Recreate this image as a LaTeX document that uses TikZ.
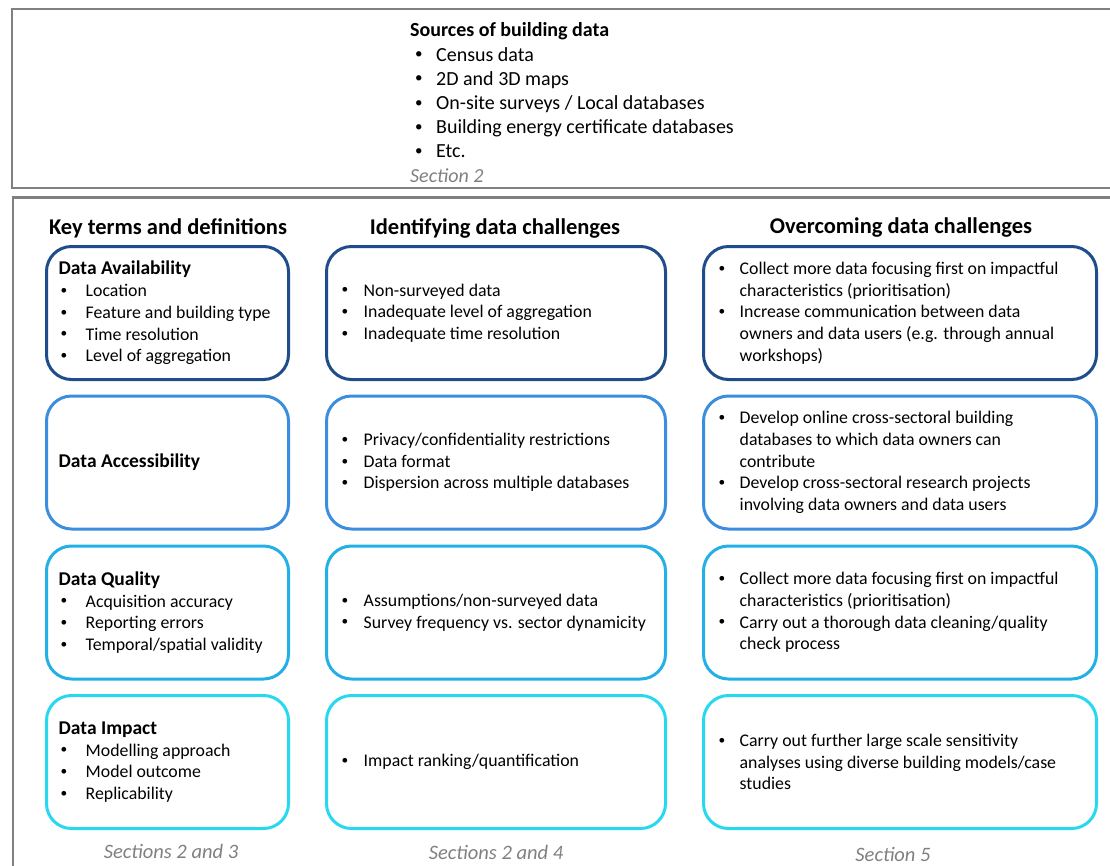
\documentclass[tikz,border=0pt]{standalone}
\usepackage{fontspec}
\setmainfont{Carlito}
\definecolor{frame}{RGB}{128,128,128}
\definecolor{sec}{RGB}{128,128,128}
\definecolor{cA}{RGB}{31,76,138}
\definecolor{cB}{RGB}{59,142,222}
\definecolor{cC}{RGB}{34,176,230}
\definecolor{cD}{RGB}{38,216,240}
\newcommand\dotb{\raisebox{0.12em}{\scalebox{0.75}{\textbullet}}}
\newcommand\bu[1][24pt]{\makebox[#1][l]{\hspace*{2pt}\dotb}}
\newcommand\cu[1][24pt]{\hspace*{#1}}
\newcommand\ttl[1]{{\bfseries\fontsize{19.5}{22}\selectfont #1}}
\begin{document}
\begin{tikzpicture}[x=1pt,y=-1pt,
  outer/.style={draw=frame,line width=2.8pt},
  cbox/.style={draw=#1,line width=3pt,rounded corners=25pt,inner sep=0pt},
  txt/.style={anchor=west,align=left,inner sep=0pt,font=\fontsize{17.8}{21.7}\selectfont},
  hdr/.style={font=\bfseries\fontsize{22.5}{26}\selectfont,inner sep=0pt},
  foot/.style={font=\itshape\fontsize{20.5}{24}\selectfont,text=sec,inner sep=0pt}]
\useasboundingbox (0,0) rectangle (1110,865);
\clip (0,0) rectangle (1110,865);
% outer frames
\draw[outer] (12,9) rectangle (1130,188);
\draw[outer] (13,197.5) rectangle (1130,890);
% sources
\node[anchor=west,align=left,inner sep=0pt,font=\fontsize{20}{24.2}\selectfont] (src) at (410,102.5)
 {\textbf{Sources of building data}\\
  \hspace*{3pt}\bu[23pt]Census data\\
  \hspace*{3pt}\bu[23pt]2D and 3D maps\\
  \hspace*{3pt}\bu[23pt]On-site surveys / Local databases\\
  \hspace*{3pt}\bu[23pt]Building energy certificate databases\\
  \hspace*{3pt}\bu[23pt]Etc.\\
  \textcolor{sec}{\itshape Section 2}};
% headers
\node[hdr] (h1) at (168,228) {Key terms and definitions};
\node[hdr] (h2) at (495,228) {Identifying data challenges};
\node[hdr] (h3) at (901,228) {Overcoming data challenges};
% boxes
\foreach \r/\y/\c in {1/313/cA,2/462.5/cB,3/612.5/cC,4/762/cD}{
  \node[cbox=\c,minimum width=242pt,minimum height=133pt] (k\r) at (167.5,\y) {};
  \node[cbox=\c,minimum width=339pt,minimum height=133pt] (o\r) at (496,\y) {};
  \node[cbox=\c,minimum width=393pt,minimum height=133pt] (s\r) at (900,\y) {};
}
% column 1
\node[txt] (k1t) at ([xshift=13.5pt]k1.west)
 {\ttl{Data Availability}\\ \bu[27pt]Location\\ \bu[27pt]Feature and building type\\ \bu[27pt]Time resolution\\ \bu[27pt]Level of aggregation};
\node[txt] (k2t) at ([xshift=13.5pt]k2.west) {\ttl{Data Accessibility}};
\node[txt] (k3t) at ([xshift=13.5pt]k3.west)
 {\ttl{Data Quality}\\ \bu[27pt]Acquisition accuracy\\ \bu[27pt]Reporting errors\\ \bu[27pt]Temporal/spatial validity};
\node[txt] (k4t) at ([xshift=13.5pt]k4.west)
 {\ttl{Data Impact}\\ \bu[27pt]Modelling approach\\ \bu[27pt]Model outcome\\ \bu[27pt]Replicability};
% column 2
\node[txt] (o1t) at ([xshift=14.5pt]o1.west)
 {\bu Non-surveyed data\\ \bu Inadequate level of aggregation\\ \bu Inadequate time resolution};
\node[txt] (o2t) at ([xshift=14.5pt]o2.west)
 {\bu Privacy/confidentiality restrictions\\ \bu Data format\\ \bu Dispersion across multiple databases};
\node[txt] (o3t) at ([xshift=14.5pt]o3.west)
 {\bu Assumptions/non-surveyed data\\ \bu Survey frequency vs. sector dynamicity};
\node[txt] (o4t) at ([xshift=14.5pt]o4.west)
 {\bu Impact ranking/quantification};
% column 3
\node[txt] (s1t) at ([xshift=14.5pt]s1.west)
 {\bu[23pt]Collect more data focusing first on impactful\\ \cu[23pt]characteristics (prioritisation)\\
  \bu[23pt]Increase communication between data\\ \cu[23pt]owners and data users (e.g. through annual\\ \cu[23pt]workshops)};
\node[txt] (s2t) at ([xshift=14.5pt]s2.west)
 {\bu[23pt]Develop online cross-sectoral building\\ \cu[23pt]databases to which data owners can\\ \cu[23pt]contribute\\
  \bu[23pt]Develop cross-sectoral research projects\\ \cu[23pt]involving data owners and data users};
\node[txt] (s3t) at ([xshift=14.5pt]s3.west)
 {\bu[23pt]Collect more data focusing first on impactful\\ \cu[23pt]characteristics (prioritisation)\\
  \bu[23pt]Carry out a thorough data cleaning/quality\\ \cu[23pt]check process};
\node[txt] (s4t) at ([xshift=14.5pt]s4.west)
 {\bu[23pt]Carry out further large scale sensitivity\\ \cu[23pt]analyses using diverse building models/case\\ \cu[23pt]studies};
% footers
\node[foot] (f1) at (171,851) {Sections 2 and 3};
\node[foot] (f2) at (496,852) {Sections 2 and 4};
\node[foot] (f3) at (893,854) {Section 5};
\end{tikzpicture}
\end{document}
